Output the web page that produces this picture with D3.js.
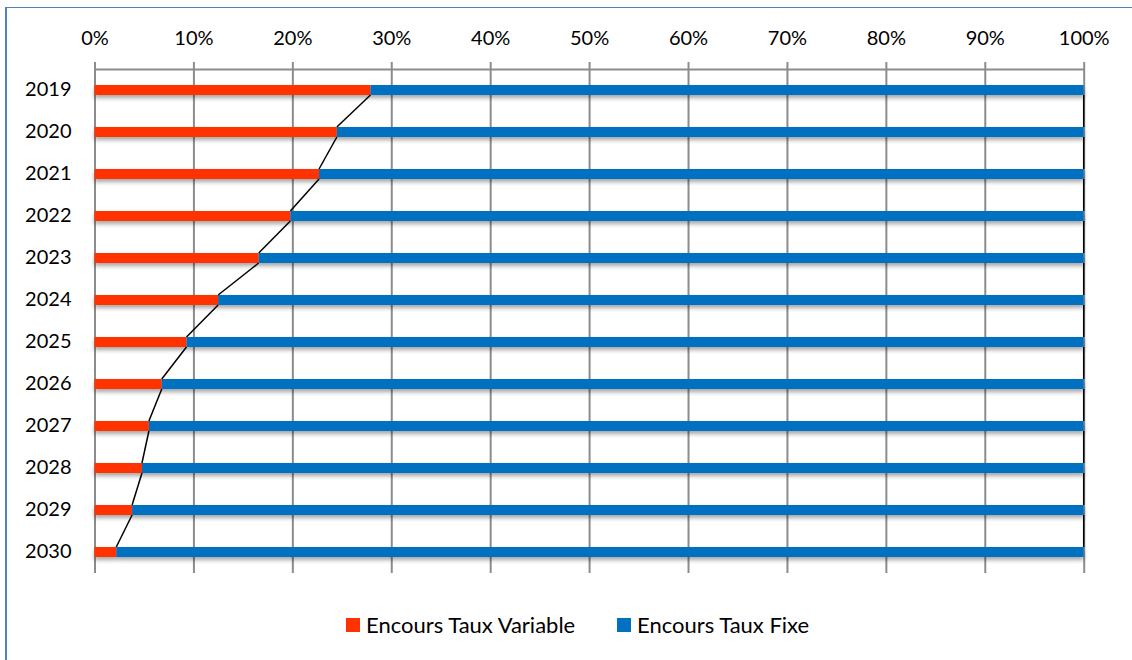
<!DOCTYPE html>
<html>
<head>
<meta charset="utf-8">
<script src="https://cdn.jsdelivr.net/npm/d3@7"></script>
<style>
  html, body { margin: 0; padding: 0; background: #fff; }
  svg { display: block; font-family: Lato, "Open Sans", sans-serif; }
</style>
</head>
<body>
<svg id="chart" width="1132" height="660"></svg>
<script>
// Share of outstanding debt by rate type, per year (percent)
const years = ["2019", "2020", "2021", "2022", "2023", "2024", "2025", "2026", "2027", "2028", "2029", "2030"];
const variableRate = [27.9, 24.5, 22.7, 19.8, 16.6, 12.5, 9.3, 6.8, 5.5, 4.8, 3.8, 2.2];
const fixedRate = variableRate.map(v => 100 - v);
const tickValues = [0, 10, 20, 30, 40, 50, 60, 70, 80, 90, 100];
const seriesNames = ["Encours Taux Variable", "Encours Taux Fixe"];
const seriesColors = ["#FF3300", "#0070C0"];

const svg = d3.select("#chart");

// outer frame (left and top edges visible)
svg.append("line").attr("x1", 6).attr("y1", 7).attr("x2", 6).attr("y2", 660)
  .attr("stroke", "#4f81bd").attr("stroke-width", 2);
svg.append("line").attr("x1", 5).attr("y1", 7.5).attr("x2", 1132).attr("y2", 7.5)
  .attr("stroke", "#4f81bd").attr("stroke-width", 1.2);

const plot = { left: 94.5, right: 1083.7, top: 69, bottom: 573 };

const x = d3.scaleLinear().domain([0, 100]).range([plot.left, plot.right]);
const y = d3.scaleBand().domain(years).range([plot.top, plot.bottom]).paddingInner(0).paddingOuter(0);
const barH = 10;
const barY = d => y(d) + y.bandwidth() / 2 - barH / 2;

// drop shadow under bars
const defs = svg.append("defs");
const f = defs.append("filter").attr("id", "shadow")
  .attr("x", "-5%").attr("y", "-50%").attr("width", "110%").attr("height", "250%");
f.append("feDropShadow").attr("dx", 0).attr("dy", 3).attr("stdDeviation", 2)
  .attr("flood-color", "#000").attr("flood-opacity", 0.35);

// vertical gridlines
const grid = svg.append("g").attr("transform", `translate(0,${plot.top})`)
  .call(d3.axisTop(x).tickValues(tickValues).tickSize(-(plot.bottom - plot.top)).tickFormat(""));
grid.select(".domain").remove();
grid.selectAll("line").attr("stroke", "#8c8c8c").attr("stroke-width", 2);

// top axis with percent labels
const ax = svg.append("g").attr("transform", `translate(0,${plot.top})`)
  .call(d3.axisTop(x).tickValues(tickValues).tickSize(7).tickSizeOuter(0).tickPadding(17)
    .tickFormat(d => d + "%"));
ax.select(".domain").attr("stroke", "#8c8c8c").attr("stroke-width", 2);
ax.selectAll("line").attr("stroke", "#8c8c8c").attr("stroke-width", 2);
ax.selectAll("text").attr("font-size", 20).attr("fill", "#000")
  .attr("font-family", "Lato, 'Open Sans', sans-serif");

// year labels
const yl = svg.append("g").attr("transform", `translate(${plot.left},0)`)
  .call(d3.axisLeft(y).tickSize(0).tickPadding(23));
yl.select(".domain").remove();
yl.selectAll("text").attr("font-size", 20).attr("fill", "#000")
  .attr("font-family", "Lato, 'Open Sans', sans-serif");

// stacked data
const rows = years.map((yr, i) => ({ year: yr, v: variableRate[i], f: fixedRate[i] }));
const stack = d3.stack().keys(["v", "f"])(rows);

const barsG = svg.append("g").attr("filter", "url(#shadow)");
stack.forEach((layer, li) => {
  barsG.selectAll(null).data(layer).enter().append("rect")
    .attr("x", d => x(d[0]))
    .attr("y", d => barY(d.data.year))
    .attr("width", d => x(d[1]) - x(d[0]))
    .attr("height", barH)
    .attr("fill", seriesColors[li]);
});

// series lines joining the stack boundaries of consecutive bars
const seriesLines = svg.append("g").attr("fill", "none").attr("stroke", "#000").attr("stroke-width", 1.5);
stack.forEach(layer => {
  for (let i = 0; i < layer.length - 1; i++) {
    const a = layer[i], b = layer[i + 1];
    seriesLines.append("line")
      .attr("x1", x(a[1])).attr("y1", barY(a.data.year) + barH)
      .attr("x2", x(b[1])).attr("y2", barY(b.data.year));
  }
});

// legend
const legend = svg.append("g").attr("font-size", 22);
const legendItems = [{ x: 346, name: seriesNames[0], c: seriesColors[0] }, { x: 617, name: seriesNames[1], c: seriesColors[1] }];
legendItems.forEach(it => {
  legend.append("rect").attr("x", it.x).attr("y", 618).attr("width", 14).attr("height", 14).attr("fill", it.c);
  legend.append("text").attr("x", it.x + 20).attr("y", 633).attr("fill", "#000").text(it.name);
});
</script>
</body>
</html>
